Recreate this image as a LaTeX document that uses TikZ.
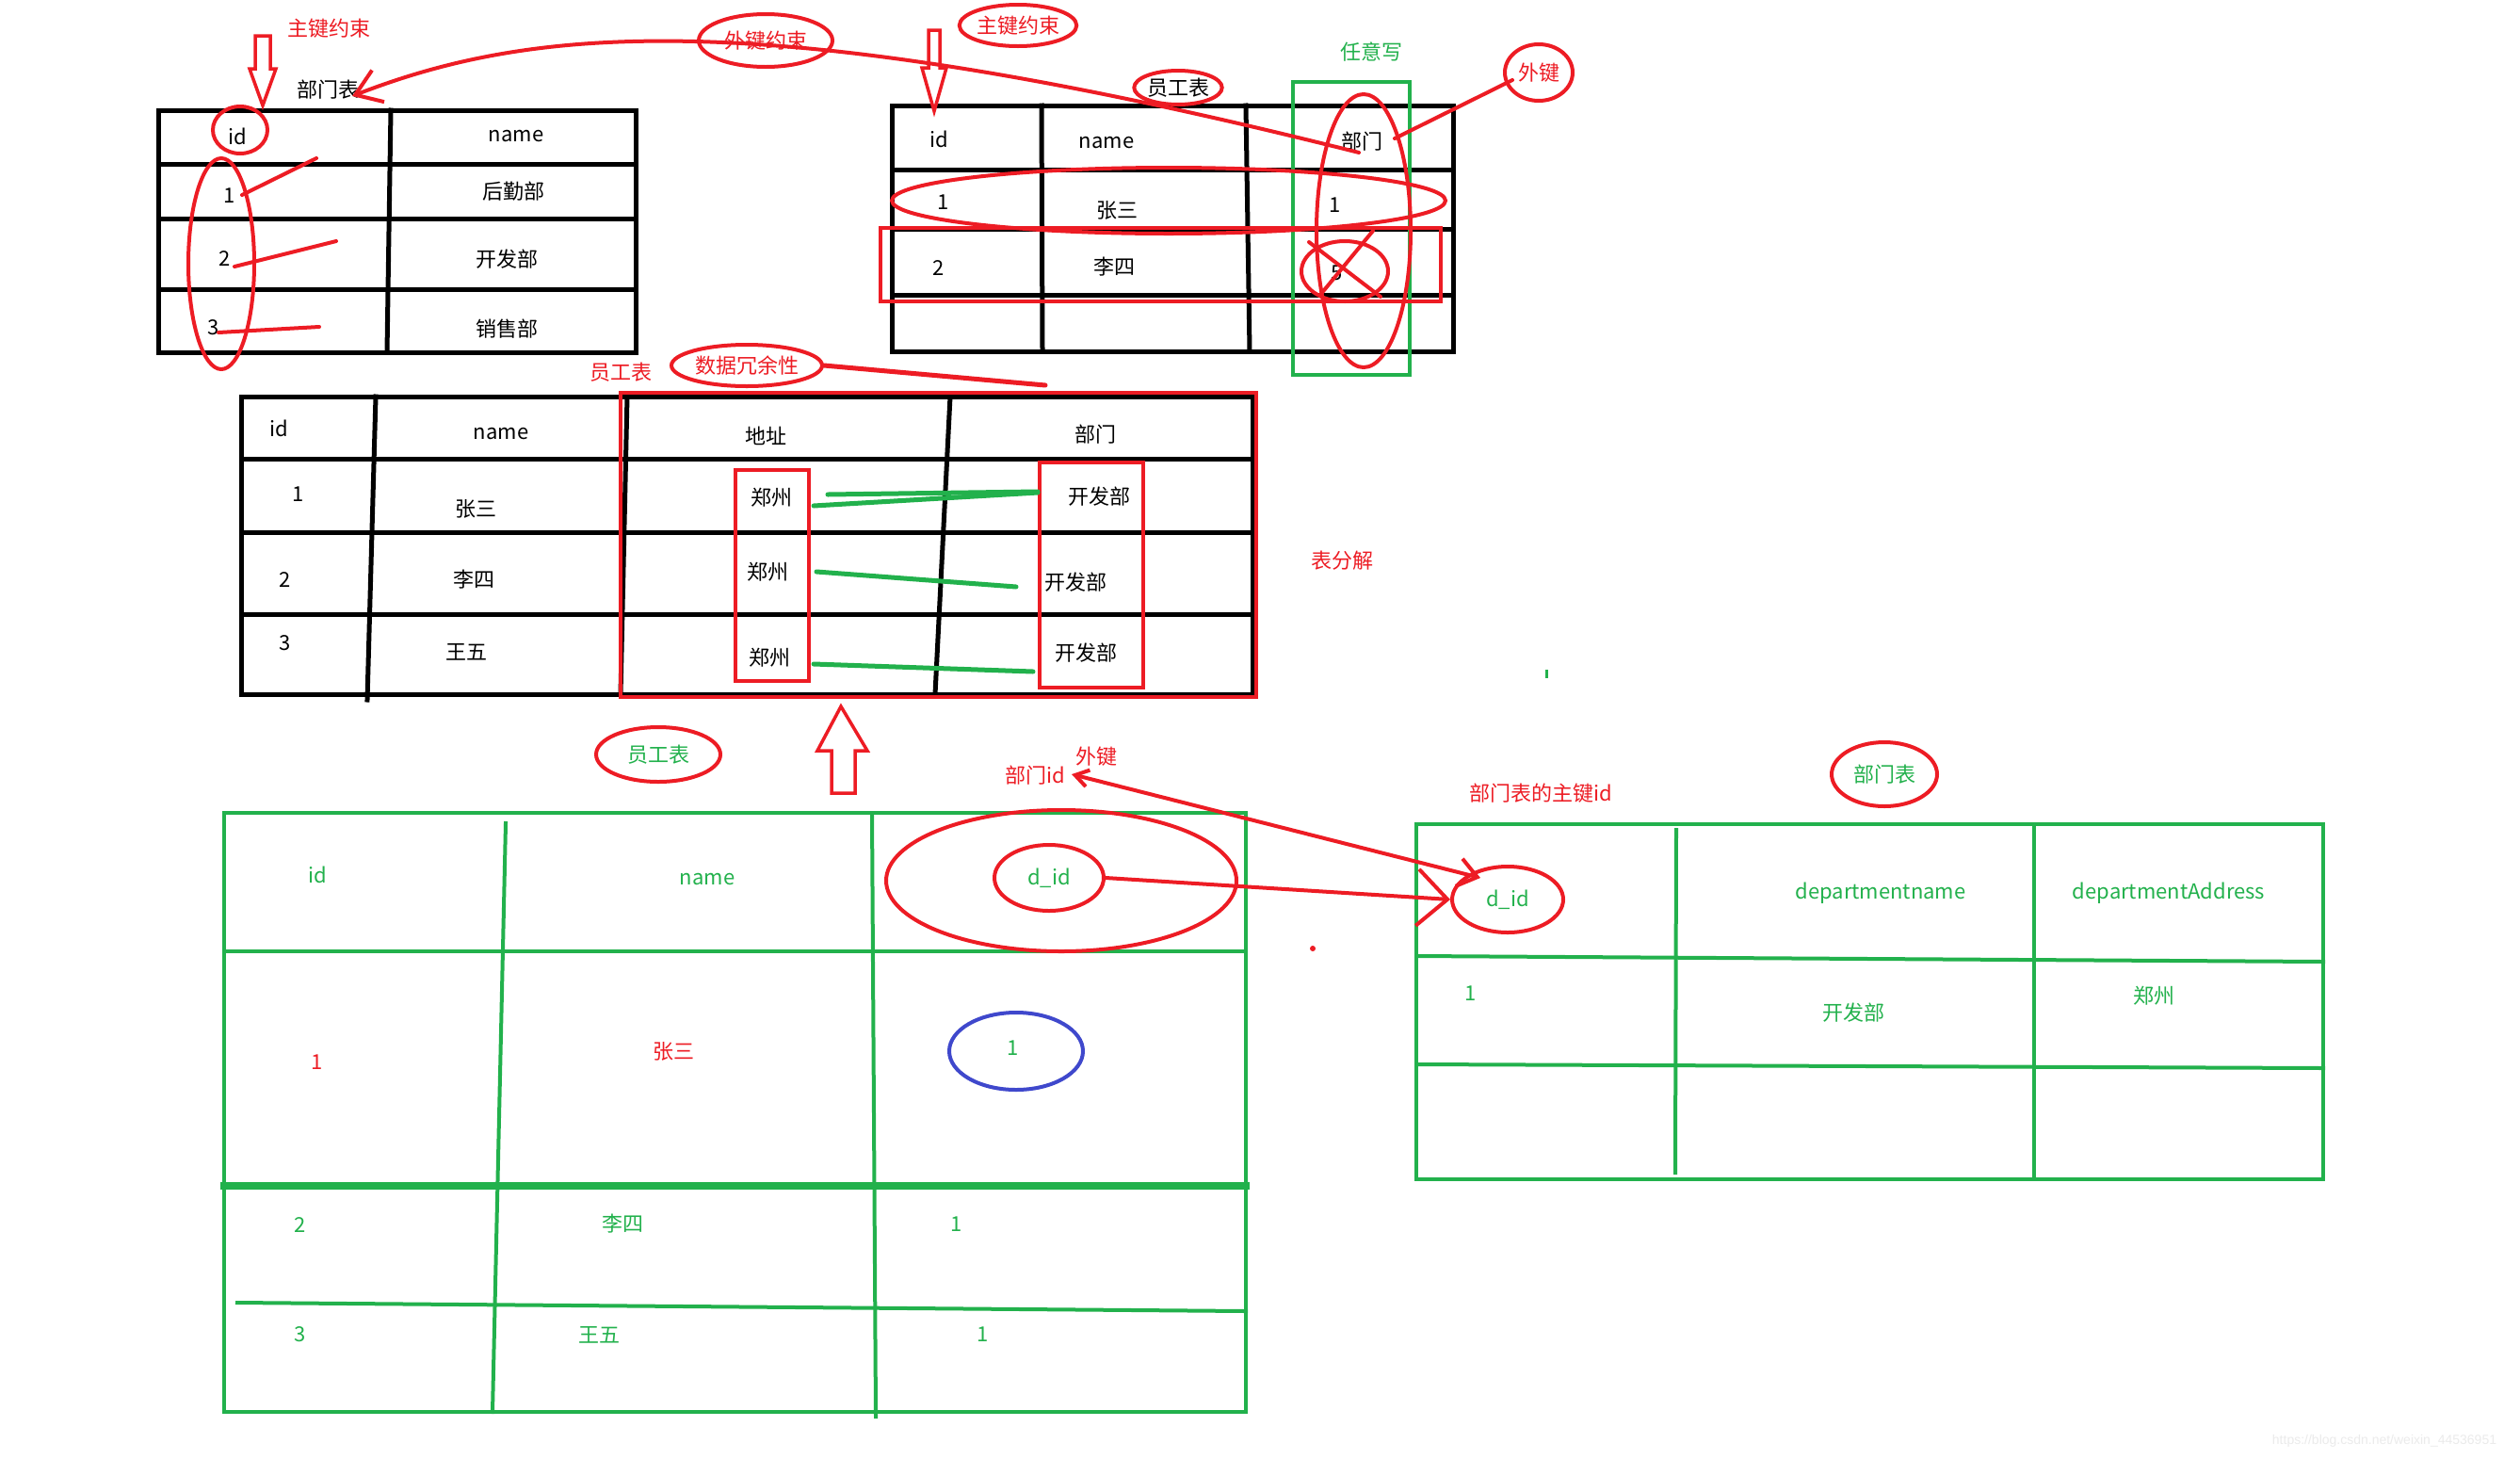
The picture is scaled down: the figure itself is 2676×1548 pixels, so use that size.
\documentclass[tikz,border=0pt]{standalone}
\usepackage{fontspec}
\setmainfont{Noto Sans CJK SC}
\newfontfamily\wmfont{Liberation Sans}
\usetikzlibrary{shapes.geometric,arrows.meta}
\definecolor{pred}{HTML}{ED1C24}
\definecolor{pgreen}{HTML}{22B14C}
\definecolor{pblue}{HTML}{3F48CC}

\begin{document}
\begin{tikzpicture}[x=1pt,y=-1pt,
	txt/.style={font=\fontsize{22}{24}\selectfont,inner sep=0pt},
	rtxt/.style={txt,text=pred},
	gtxt/.style={txt,text=pgreen},
	tbl/.style={line width=5pt,line cap=rect},
	gtbl/.style={line width=4pt,draw=pgreen,line cap=rect},
	rl/.style={line width=4pt,draw=pred,line cap=round},
	gl/.style={line width=5pt,draw=pgreen,line cap=round},
	ring/.style={ellipse,draw=pred,line width=4pt,inner sep=0pt},
	hollow/.style={draw=pred,line width=3.5pt,line join=miter,fill=white}]
	\fill[white] (0,0) rectangle (2676,1548);
	\useasboundingbox (0,0) rectangle (2676,1548);

	\draw[tbl] (168,117) rectangle (675,374);
	\draw[tbl] (415,117) -- (411,374);
	\foreach \y in {174,232,307} \draw[tbl] (168,\y) -- (675,\y);

	\draw[tbl] (947,112) rectangle (1543,373);
	\draw[tbl] (1106,112) -- (1107,373);
	\draw[tbl] (1323,112) -- (1327,373);
	\foreach \y in {180,243,313} \draw[tbl] (947,\y) -- (1543,\y);

	\draw[tbl] (256,421) rectangle (1330,737);
	\draw[tbl] (399,421) -- (390,743);
	\draw[tbl] (666,421) -- (659,737);
	\draw[tbl] (1009,421) -- (993,737);
	\foreach \y in {487,565,652} \draw[tbl] (256,\y) -- (1330,\y);

	\draw[gtbl] (238,863) rectangle (1323,1499);
	\draw[gtbl] (537,874) -- (523,1499);
	\draw[gtbl] (926,863) -- (930,1504);
	\draw[gtbl] (238,1010) -- (1323,1010);
	\draw[gtbl,line width=8pt] (238,1259) -- (1323,1259);
	\draw[gtbl] (252,1383) -- (1323,1392);

	\draw[gtbl] (1504,875) rectangle (2467,1252);
	\draw[gtbl] (1780,881) -- (1779,1245);
	\draw[gtbl] (2160,875) -- (2160,1252);
	\draw[gtbl] (1504,1015) -- (2467,1021);
	\draw[gtbl] (1504,1130) -- (2467,1134);

	\node (a1) [txt] at (252,145) {id};
	\node (a2) [txt] at (548,145) {name};
	\node (a3) [txt] at (244,208) {1};
	\node (a4) [txt] at (545,203) {后勤部};
	\node (a5) [txt] at (239,275) {2};
	\node (a6) [txt] at (538,275) {开发部};
	\node (a7) [txt] at (227,348) {3};
	\node (a8) [txt] at (538,349) {销售部};

	\node (b1) [txt] at (997,148) {id};
	\node (b2) [txt] at (1175,152) {name};
	\node (b3) [txt] at (1446,150) {部门};
	\node (b4) [txt] at (1002,215) {1};
	\node (b5) [txt] at (1186,223) {张三};
	\node (b6) [txt] at (1418,218) {1};
	\node (b7) [txt] at (997,285) {2};
	\node (b8) [txt] at (1183,283) {李四};
	\node (b9) [txt] at (1420,290) {5};

	\node (c1) [txt] at (296,455) {id};
	\node (c2) [txt] at (532,461) {name};
	\node (c3) [txt] at (813,463) {地址};
	\node (c4) [txt] at (1163,461) {部门};
	\node (c5) [txt] at (317,525) {1};
	\node (c6) [txt] at (505,540) {张三};
	\node (c7) [txt] at (303,616) {2};
	\node (c8) [txt] at (503,615) {李四};
	\node (c9) [txt] at (303,683) {3};
	\node (c10) [txt] at (495,692) {王五};
	\node (zz1) [txt] at (819,528) {郑州};
	\node (zz2) [txt] at (815,607) {郑州};
	\node (zz3) [txt] at (817,698) {郑州};
	\node (kf1) [txt] at (1167,527) {开发部};
	\node (kf2) [txt] at (1142,618) {开发部};
	\node (kf3) [txt] at (1153,693) {开发部};

	\node (e1) [gtxt] at (337,929) {id};
	\node (e2) [gtxt] at (751,934) {name};
	\node (e4) [rtxt] at (337,1128) {1};
	\node (e5) [rtxt] at (715,1116) {张三};
	\node (e6) [gtxt] at (1076,1113) {1};
	\node (e7) [gtxt] at (319,1300) {2};
	\node (e8) [gtxt] at (661,1299) {李四};
	\node (e9) [gtxt] at (1016,1300) {1};
	\node (e10) [gtxt] at (319,1417) {3};
	\node (e11) [gtxt] at (636,1417) {王五};
	\node (e12) [gtxt] at (1044,1417) {1};

	\node (f2) [gtxt] at (1997,948) {departmentname};
	\node (f3) [gtxt] at (2303,948) {departmentAddress};
	\node (f4) [gtxt] at (1562,1055) {1};
	\node (f5) [gtxt] at (1968,1075) {开发部};
	\node (f6) [gtxt] at (2287,1057) {郑州};

	\node (pk1) [rtxt] at (349,30) {主键约束};
	\node (dtab) [txt] at (348,95) {部门表};
	\node (fkc) [ring,rtxt,minimum width=142pt,minimum height=56pt] at (813,43) {外键约束};
	\node (pk2) [ring,rtxt,minimum width=120pt,minimum height=44pt] at (1081,27) {主键约束};
	\node (etab) [ring,txt,minimum width=86pt,minimum height=36pt] at (1251,93) {员工表};
	\node (any) [gtxt] at (1456,55) {任意写};
	\node (fk1) [ring,rtxt,minimum width=72pt,minimum height=60pt] at (1634,77) {外键};
	\node (etab2) [rtxt] at (659,395) {员工表};
	\node (red) [ring,rtxt,minimum width=160pt,minimum height=44pt] at (793,388) {数据冗余性};
	\node (split) [rtxt] at (1425,595) {表分解};
	\node (etab3) [ring,gtxt,minimum width=132pt,minimum height=58pt] at (699,801) {员工表};
	\node (fk2) [rtxt] at (1164,803) {外键};
	\node (did) [rtxt] at (1099,823) {部门id};
	\node (pkid) [rtxt] at (1636,842) {部门表的主键id};
	\node (dtab2) [ring,gtxt,minimum width=112pt,minimum height=68pt] at (2001,822) {部门表};
	\node (d1) [ring,gtxt,minimum width=116pt,minimum height=70pt] at (1114,932) {d\_id};
	\node (d2) [ring,gtxt,minimum width=118pt,minimum height=70pt] at (1601,955) {d\_id};

	\draw[hollow] (271,38) -- (287,38) -- (287,73) -- (293,73) -- (279,112) -- (265,73) -- (271,73) -- cycle;
	\draw[hollow] (986,32) -- (998,32) -- (998,72) -- (1005,72) -- (992,118) -- (979,72) -- (986,72) -- cycle;
	\draw[hollow] (883,842) -- (908,842) -- (908,797) -- (921,797) -- (893,750) -- (868,797) -- (883,797) -- cycle;

	\draw[rl] (255,138) ellipse (29 and 25);
	\draw[rl] (235,280) ellipse (35 and 112);
	\draw[rl] (257,207) -- (336,168);
	\draw[rl] (249,283) -- (357,256);
	\draw[rl] (232,353) -- (339,347);

	\draw[line width=4pt,draw=pgreen] (1373,87) rectangle (1497,398);
	\draw[rl] (1448,245) ellipse (50 and 145);
	\draw[rl] (1241,213) ellipse (294 and 35);
	\draw[rl,line cap=butt] (935,242) rectangle (1530,320);
	\draw[rl] (1428,288) ellipse (46 and 32);
	\draw[rl] (1390,257) -- (1466,315);
	\draw[rl] (1458,245) -- (1402,313);

	\coordinate (fkarm) at (1606,85);
	\coordinate (b3foot) at (1481,147);
	\draw[rl] (fkarm) -- (b3foot);
	\coordinate (dcur) at (1443,162);
	\coordinate (dtip) at (374,102);
	\draw[rl,-{Straight Barb[length=26pt,width=36pt]}] (dcur) .. controls (800,0) and (560,30) .. (dtip);

	\draw[rl,line cap=butt] (659,417) rectangle (1334,740);
	\draw[rl,line cap=butt] (781,499) rectangle (859,723);
	\draw[rl,line cap=butt] (1104,491) rectangle (1214,730);
	\coordinate (redend) at (1110,409);
	\draw[rl,line width=5pt] (red.east) -- (redend);
	\draw[gl] (879,525) -- (1102,522);
	\draw[gl] (864,537) -- (1102,523);
	\draw[gl] (867,607) -- (1079,623);
	\draw[gl] (864,705) -- (1097,713);

	\draw[rl] (1127,935) ellipse (186 and 75);
	\draw[line width=4pt,draw=pblue] (1079,1116) ellipse (71 and 41);
	\coordinate (didtip) at (1138,822);
	\coordinate (d2tip) at (1572,932);
	\draw[rl,{Straight Barb[length=14pt,width=18pt]}-{Straight Barb[length=20pt,width=30pt]}] (didtip) -- (d2tip);
	\draw[rl,-{Straight Barb[length=32pt,width=60pt]}] (d1.east) -- (d2.west);

	\fill[pred] (1394,1007) circle (3);
	\draw[line width=3pt,draw=pgreen] (1642,711) -- (1642,720);

	\node (wm) [font=\wmfont\fontsize{14}{16}\selectfont,text=black!8,inner sep=0pt] at (2532,1530) {https://blog.csdn.net/weixin\_44536951};
\end{tikzpicture}
\end{document}
